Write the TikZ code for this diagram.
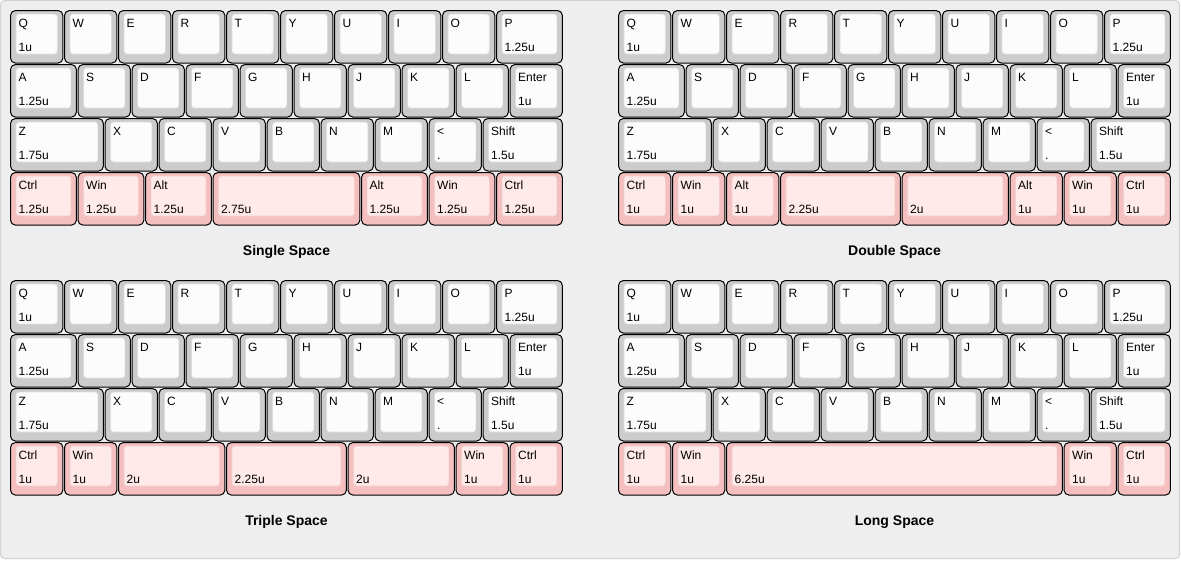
\documentclass[tikz,border=0pt]{standalone}
\usepackage{fontspec}
\setmainfont{Liberation Sans}
\definecolor{bgc}{HTML}{EEEEEE}
\definecolor{framec}{HTML}{D2D2D2}
\definecolor{gout}{HTML}{CCCCCC}
\definecolor{gin}{HTML}{FCFCFC}
\definecolor{gline}{HTML}{DDDDDD}
\definecolor{pout}{HTML}{F5BFBF}
\definecolor{pin}{HTML}{FFE9E9}
\definecolor{pline}{HTML}{F2CFCF}
\tikzset{
  keyouter/.style={line width=1pt, draw=black, rounded corners=5pt},
  keyinner/.style={line width=0.6pt, rounded corners=3pt},
  keylabel/.style={anchor=base west, inner sep=0pt, font=\fontsize{12}{14}\selectfont},
  titlelabel/.style={anchor=base, inner sep=0pt, font=\fontsize{14}{17}\selectfont\bfseries},
}
% #1 origin x, #2 origin y, #3 start (u), #4 width (u), #5 top, #6 bottom, #7 colour prefix
\newcommand{\kbkey}[7]{%
  \pgfmathsetmacro\kx{#1+54*#3+0.5}%
  \pgfmathsetmacro\ky{#2+0.5}%
  \pgfmathsetmacro\kw{54*#4-1.6}%
  \draw[keyouter, fill=#7out] (\kx,\ky) rectangle ++(\kw,52.6);
  \draw[keyinner, fill=#7in, draw=#7line] (\kx+5.5,\ky+3.5) rectangle ++(\kw-11,40);
  \node[keylabel] at (\kx+8,\ky+16.5) {#5};
  \node[keylabel] at (\kx+8,\ky+40.5) {#6};
}
\newcommand{\kbbase}[2]{%
  \foreach \s/\w/\a/\b in {0/1/Q/1u,1/1/W/{},2/1/E/{},3/1/R/{},4/1/T/{},5/1/Y/{},6/1/U/{},7/1/I/{},8/1/O/{},9/1.25/P/1.25u}
    {\kbkey{#1}{#2}{\s}{\w}{\a}{\b}{g}}
  \foreach \s/\w/\a/\b in {0/1.25/A/1.25u,1.25/1/S/{},2.25/1/D/{},3.25/1/F/{},4.25/1/G/{},5.25/1/H/{},6.25/1/J/{},7.25/1/K/{},8.25/1/L/{},9.25/1/Enter/1u}
    {\kbkey{#1}{#2+54}{\s}{\w}{\a}{\b}{g}}
  \foreach \s/\w/\a/\b in {0/1.75/Z/1.75u,1.75/1/X/{},2.75/1/C/{},3.75/1/V/{},4.75/1/B/{},5.75/1/N/{},6.75/1/M/{},7.75/1/{<}/{.},8.75/1.5/Shift/1.5u}
    {\kbkey{#1}{#2+108}{\s}{\w}{\a}{\b}{g}}
}
\begin{document}
\begin{tikzpicture}[x=1pt,y=-1pt]
  \useasboundingbox (0,0) rectangle (1181,560);
  \draw[fill=bgc, draw=framec, line width=1pt, rounded corners=4pt] (0.5,0.5) rectangle (1179.5,558.5);
  % Single Space
  \kbbase{10}{10}
  \foreach \s/\w/\a/\b in {0/1.25/Ctrl/1.25u,1.25/1.25/Win/1.25u,2.5/1.25/Alt/1.25u,3.75/2.75/{}/2.75u,6.5/1.25/Alt/1.25u,7.75/1.25/Win/1.25u,9/1.25/Ctrl/1.25u}
    {\kbkey{10}{172}{\s}{\w}{\a}{\b}{p}}
  \node[titlelabel] (t1) at (286.5,255) {Single Space};
  % Double Space
  \kbbase{618}{10}
  \foreach \s/\w/\a/\b in {0/1/Ctrl/1u,1/1/Win/1u,2/1/Alt/1u,3/2.25/{}/2.25u,5.25/2/{}/2u,7.25/1/Alt/1u,8.25/1/Win/1u,9.25/1/Ctrl/1u}
    {\kbkey{618}{172}{\s}{\w}{\a}{\b}{p}}
  \node[titlelabel] (t2) at (894.5,255) {Double Space};
  % Triple Space
  \kbbase{10}{280}
  \foreach \s/\w/\a/\b in {0/1/Ctrl/1u,1/1/Win/1u,2/2/{}/2u,4/2.25/{}/2.25u,6.25/2/{}/2u,8.25/1/Win/1u,9.25/1/Ctrl/1u}
    {\kbkey{10}{442}{\s}{\w}{\a}{\b}{p}}
  \node[titlelabel] (t3) at (286.5,525) {Triple Space};
  % Long Space
  \kbbase{618}{280}
  \foreach \s/\w/\a/\b in {0/1/Ctrl/1u,1/1/Win/1u,2/6.25/{}/6.25u,8.25/1/Win/1u,9.25/1/Ctrl/1u}
    {\kbkey{618}{442}{\s}{\w}{\a}{\b}{p}}
  \node[titlelabel] (t4) at (894.5,525) {Long Space};
\end{tikzpicture}
\end{document}
